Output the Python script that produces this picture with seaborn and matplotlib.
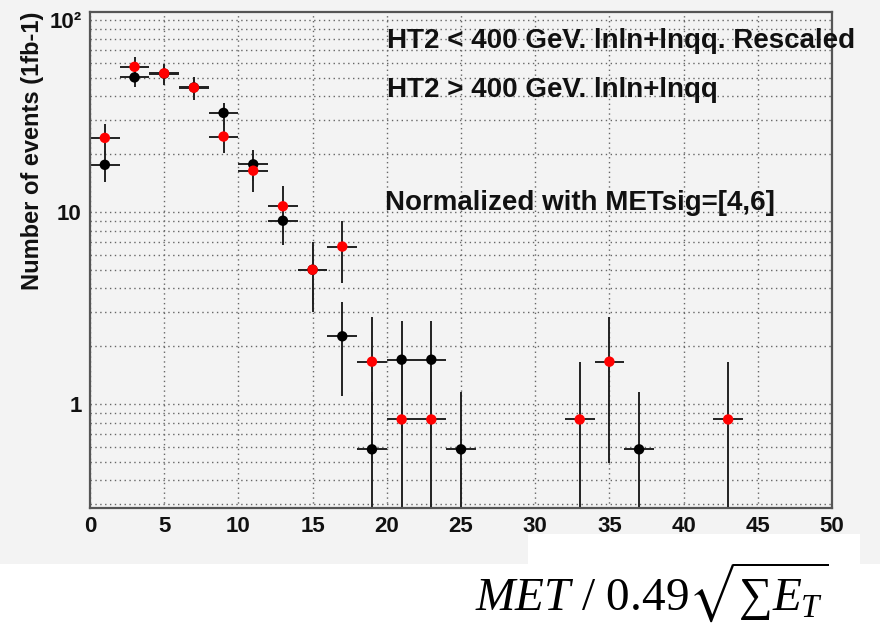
import numpy as np
import pandas as pd
import matplotlib
matplotlib.use("Agg")
import matplotlib.pyplot as plt
import matplotlib.ticker as mticker
from matplotlib.patches import Rectangle
import seaborn as sns

# MET significance bins (centres, bin width 2)
met_high = [1, 3, 5, 7, 9, 11, 13, 15, 17, 19, 21, 23, 25, 37]
events_high = [17.6, 50.2, 52.5, 44.5, 32.8, 17.7, 9.0, 5.0, 2.25, 0.58, 1.70, 1.70, 0.58, 0.58]
err_high = [3.2, 5.4, 5.5, 5.0, 4.3, 3.2, 2.3, 1.7, 1.15, 0.58, 1.0, 1.0, 0.58, 0.58]

met_low = [1, 3, 5, 7, 9, 11, 13, 15, 17, 19, 21, 23, 33, 35, 43]
events_low = [24.3, 57.0, 52.7, 44.4, 24.7, 16.4, 10.7, 5.0, 6.6, 1.66, 0.83, 0.83, 0.83, 1.66, 0.83]
err_low = [4.5, 6.9, 6.6, 6.1, 4.5, 3.7, 3.0, 2.0, 2.35, 1.17, 0.83, 0.83, 0.83, 1.17, 0.83]

label_low = "HT2 < 400 GeV. lnln+lnqq. Rescaled"
label_high = "HT2 > 400 GeV. lnln+lnqq"
note = "Normalized with METsig=[4,6]"
y_title = "Number of events (1fb-1)"
x_title = r"$MET\ \mathrm{/}\ \mathrm{0.49}\sqrt{\sum E_T}$"

half_bin = 1.0

df = pd.concat([
    pd.DataFrame({"met": met_high, "events": events_high, "err": err_high, "sample": "high"}),
    pd.DataFrame({"met": met_low, "events": events_low, "err": err_low, "sample": "low"}),
], ignore_index=True)

sns.set_theme(style="white")
plt.rcParams["font.family"] = ["Liberation Sans", "DejaVu Sans"]
plt.rcParams["mathtext.fontset"] = "custom"
plt.rcParams["mathtext.rm"] = "Liberation Serif"
plt.rcParams["mathtext.it"] = "Liberation Serif:italic"
plt.rcParams["mathtext.fallback"] = "stix"

W, H = 880, 628
fig = plt.figure(figsize=(W / 100, H / 100), dpi=100, facecolor="white")

def fx(px):
    return px / W

def fy(py):
    return 1 - py / H

# canvas background and the white strip under the axis title
fig.patches.append(Rectangle((0, fy(564)), 1, 1 - fy(564), transform=fig.transFigure,
                             facecolor="#f3f3f3", edgecolor="none", zorder=-2))
fig.patches.append(Rectangle((fx(528), 0), fx(860) - fx(528), fy(534), transform=fig.transFigure,
                             facecolor="white", edgecolor="none", zorder=-1))

ax = fig.add_axes([fx(90), fy(508), fx(832) - fx(90), fy(12) - fy(508)])
ax.set_facecolor("#f3f3f3")
ax.set_yscale("log")
ax.set_xlim(0, 50)
ax.set_ylim(0.287, 110)

# error bars (black for both samples)
for s in ["high", "low"]:
    d = df[df["sample"] == s]
    lo = np.minimum(d["err"].values, d["events"].values * 0.999)
    ax.errorbar(d["met"], d["events"], xerr=half_bin, yerr=[lo, d["err"].values],
                fmt="none", ecolor="#222222", elinewidth=1.4, capsize=0, zorder=2)

sns.scatterplot(data=df, x="met", y="events", hue="sample",
                palette={"high": "black", "low": "#ff0000"},
                s=56, edgecolor="none", linewidth=0, legend=False, zorder=3, ax=ax)

# axes styling
ax.xaxis.set_major_locator(mticker.MultipleLocator(5))
ax.xaxis.set_minor_locator(mticker.MultipleLocator(1))
ax.yaxis.set_major_locator(mticker.FixedLocator([1, 10, 100]))
ax.yaxis.set_major_formatter(mticker.FixedFormatter(["1", "10", "10²"]))
minor_y = [v * d for d in (0.1, 1, 10) for v in range(2, 10)]
ax.yaxis.set_minor_locator(mticker.FixedLocator(minor_y))
ax.yaxis.set_minor_formatter(mticker.NullFormatter())

ax.tick_params(axis="x", which="major", direction="in", length=13, width=1.3,
               color="#333333", labelsize=16, pad=6, top=False)
ax.tick_params(axis="x", which="minor", direction="in", length=4.5, width=1.1,
               color="#333333", top=False)
ax.tick_params(axis="y", which="major", direction="in", length=16, width=1.3,
               color="#333333", labelsize=16, pad=6, right=False)
ax.tick_params(axis="y", which="minor", direction="in", length=8.5, width=1.1,
               color="#333333", right=False)
for lab in ax.get_xticklabels() + ax.get_yticklabels():
    lab.set_fontweight("bold")
    lab.set_color("#111111")

ax.grid(True, which="major", axis="x", color="#666666", linestyle=(0, (1, 2.5)), linewidth=1.0)
ax.grid(True, which="both", axis="y", color="#666666", linestyle=(0, (1, 2.5)), linewidth=1.0)
ax.set_axisbelow(True)

for sp in ax.spines.values():
    sp.set_color("#555555")
    sp.set_linewidth(1.6)
    sp.set_visible(True)

ax.set_xlabel("")
ax.set_ylabel("")

# annotations
fig.text(fx(387), fy(48), label_low, fontsize=20, fontweight="bold", color="#111111", va="baseline")
fig.text(fx(387), fy(97), label_high, fontsize=20, fontweight="bold", color="#111111", va="baseline")
fig.text(fx(385), fy(210), note, fontsize=20, fontweight="bold", color="#111111", va="baseline")
fig.text(fx(33), fy(12), y_title, rotation=90, fontsize=17, fontweight="bold",
         color="#111111", ha="center", va="top")
fig.text(fx(475), fy(611), x_title, fontsize=34, color="black", ha="left", va="baseline")

fig.savefig("out.png", dpi=100, facecolor="white")
